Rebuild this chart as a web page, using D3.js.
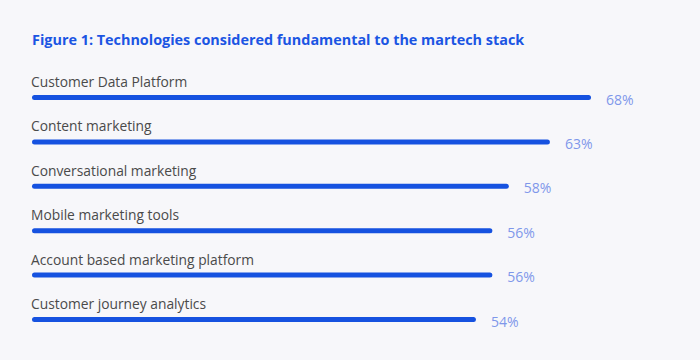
<!DOCTYPE html>
<html>
<head>
<meta charset="utf-8">
<script src="https://cdn.jsdelivr.net/npm/d3@7"></script>
<style>
  html, body { margin: 0; padding: 0; background: #f7f7fa; }
  svg { display: block; }
</style>
</head>
<body>
<svg id="chart" width="700" height="360"></svg>
<script>
const title = "Figure 1: Technologies considered fundamental to the martech stack";
const categories = [
  "Customer Data Platform",
  "Content marketing",
  "Conversational marketing",
  "Mobile marketing tools",
  "Account based marketing platform",
  "Customer journey analytics"
];
const values = [68, 63, 58, 56, 56, 54];

const svg = d3.select("#chart");
svg.append("rect").attr("width", 700).attr("height", 360).attr("fill", "#f7f7fa");

svg.append("text")
  .attr("x", 32).attr("y", 45)
  .attr("font-family", "'Open Sans', sans-serif")
  .attr("font-weight", 700)
  .attr("font-size", 14.4)
  .attr("fill", "#1b55e3")
  .text(title);

const x = d3.scaleLinear().domain([0, 68]).range([32, 591]);
const y = d3.scalePoint().domain(categories).range([97.5, 319.5]);

const g = svg.append("g");
const rows = g.selectAll("g.row").data(categories).join("g").attr("class", "row");

rows.append("line")
  .attr("x1", x(0) + 2.5)
  .attr("x2", (d, i) => x(values[i]) - 2.5)
  .attr("y1", d => y(d))
  .attr("y2", d => y(d))
  .attr("stroke", "#1652e0")
  .attr("stroke-width", 5)
  .attr("stroke-linecap", "round");

rows.append("text")
  .attr("x", 31)
  .attr("y", d => y(d) - 10.5)
  .attr("font-family", "'Open Sans', sans-serif")
  .attr("font-size", 13.8)
  .attr("fill", "#4a4a4a")
  .text(d => d);

rows.append("text")
  .attr("x", (d, i) => x(values[i]) + 15)
  .attr("y", d => y(d) + 7)
  .attr("font-family", "'Open Sans', sans-serif")
  .attr("font-size", 14)
  .attr("fill", "#7f97ea")
  .text((d, i) => values[i] + "%");
</script>
</body>
</html>
